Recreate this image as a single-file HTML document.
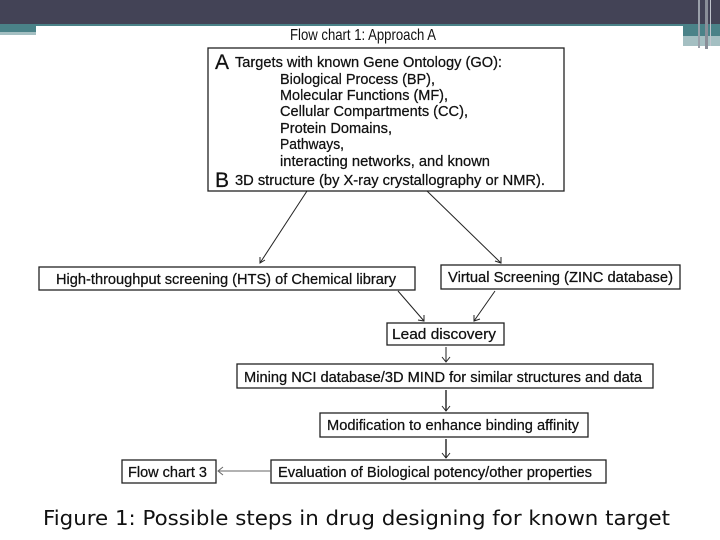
<!DOCTYPE html>
<html><head><meta charset="utf-8"><style>
html,body{margin:0;padding:0;background:#fff;}
svg{display:block;}
text{font-family:"Liberation Sans",Arial,sans-serif;fill:#111;}
</style></head><body>
<svg width="720" height="540" viewBox="0 0 720 540" xmlns="http://www.w3.org/2000/svg">
<rect x="0" y="0" width="720" height="24" fill="#434356"/>
<rect x="0" y="24" width="720" height="2" fill="#4a8288"/>
<rect x="0" y="24" width="36" height="8" fill="#4a8288"/>
<rect x="0" y="32" width="36" height="3" fill="#a4bfc2"/>
<rect x="683" y="24" width="37" height="12" fill="#4a8288"/>
<rect x="683" y="36" width="37" height="10" fill="#a4bfc2"/>
<rect x="698" y="0" width="2" height="48" fill="#9aa0aa"/>
<rect x="705" y="0" width="3" height="49" fill="#8a8e98"/>
<rect x="710" y="0" width="1" height="46" fill="#c0c4cc"/>

<text x="363" y="40" font-size="16" text-anchor="middle" textLength="146" lengthAdjust="spacingAndGlyphs">Flow chart 1: Approach A</text>

<g fill="#fff" stroke="#222" stroke-width="1.3">
<rect x="208" y="48" width="356" height="143"/>
<rect x="39" y="267" width="376" height="23"/>
<rect x="441" y="265" width="239" height="24"/>
<rect x="387" y="323" width="117" height="22"/>
<rect x="237" y="364" width="416" height="24"/>
<rect x="320" y="413" width="268" height="24"/>
<rect x="271" y="460" width="335" height="23"/>
<rect x="122" y="460" width="94" height="23"/>
</g>

<g stroke="#111" stroke-width="0.25">
<text x="215" y="69" font-size="21">A</text>
<text x="235" y="67" font-size="14.5" textLength="267" lengthAdjust="spacingAndGlyphs">Targets with known Gene Ontology (GO):</text>
<g font-size="14.5">
<text x="280" y="84" textLength="155" lengthAdjust="spacingAndGlyphs">Biological Process (BP),</text>
<text x="280" y="100" textLength="168" lengthAdjust="spacingAndGlyphs">Molecular Functions (MF),</text>
<text x="280" y="116" textLength="188" lengthAdjust="spacingAndGlyphs">Cellular Compartments (CC),</text>
<text x="280" y="133" textLength="112" lengthAdjust="spacingAndGlyphs">Protein Domains,</text>
<text x="280" y="149" textLength="64" lengthAdjust="spacingAndGlyphs">Pathways,</text>
<text x="280" y="166" textLength="210" lengthAdjust="spacingAndGlyphs">interacting networks, and known</text>
</g>
<text x="215" y="187" font-size="21">B</text>
<text x="235" y="185" font-size="14.5" textLength="310" lengthAdjust="spacingAndGlyphs">3D structure (by X-ray crystallography or NMR).</text>

<g font-size="14.5">
<text x="56" y="284" textLength="340" lengthAdjust="spacingAndGlyphs">High-throughput screening (HTS) of Chemical library</text>
<text x="448" y="282" textLength="225" lengthAdjust="spacingAndGlyphs">Virtual Screening (ZINC database)</text>
<text x="392" y="339" textLength="104" lengthAdjust="spacingAndGlyphs">Lead  discovery</text>
<text x="244" y="382" textLength="398" lengthAdjust="spacingAndGlyphs">Mining NCI database/3D MIND for similar structures and data</text>
<text x="327" y="430" textLength="252" lengthAdjust="spacingAndGlyphs">Modification to enhance binding affinity</text>
<text x="278" y="477" textLength="314" lengthAdjust="spacingAndGlyphs">Evaluation of Biological potency/other properties</text>
<text x="128" y="477" textLength="79" lengthAdjust="spacingAndGlyphs">Flow chart 3</text>
</g>
</g>

<g stroke="#222" stroke-width="1" fill="none">
<line x1="307" y1="191" x2="260" y2="263"/>
<polyline points="260,257 260,263 265,260"/>
<line x1="427" y1="191" x2="501" y2="263"/>
<polyline points="495,261 501,263 501,257"/>
<line x1="398" y1="291" x2="424" y2="321"/>
<polyline points="418,320 424,321 424,315"/>
<line x1="495" y1="291" x2="474" y2="321"/>
<polyline points="474,315 474,321 480,319"/>
<line x1="446" y1="347" x2="446" y2="362"/>
<polyline points="442,357 446,362 450,357"/>
<line x1="446" y1="390" x2="446" y2="411" stroke-width="1.4"/>
<polyline points="442,406 446,411 450,406"/>
<line x1="446" y1="439" x2="446" y2="458" stroke-width="1.4"/>
<polyline points="442,453 446,458 450,453"/>
<line x1="271" y1="471" x2="218" y2="471" stroke="#666"/>
<polyline points="223,467 218,471 223,475" stroke="#666"/>
</g>

<text x="43" y="525" font-size="20" style="font-family:'DejaVu Sans',sans-serif" fill="#222" textLength="627" lengthAdjust="spacingAndGlyphs">Figure 1: Possible steps in drug designing for known target</text>
</svg>
</body></html>
